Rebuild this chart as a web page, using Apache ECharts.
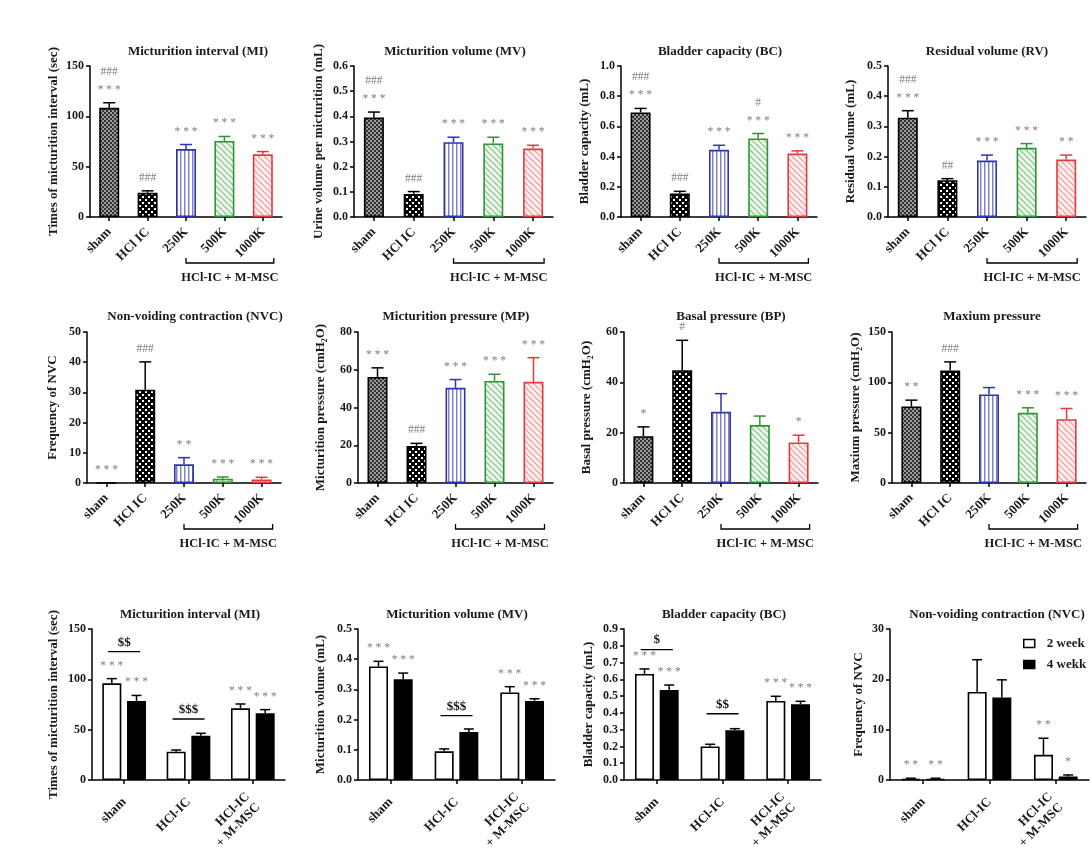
<!DOCTYPE html>
<html><head><meta charset="utf-8">
<script src="https://cdn.jsdelivr.net/npm/echarts@6/dist/echarts.min.js"></script>
<style>html,body{margin:0;padding:0;background:#fff}#c{width:1092px;height:856px}</style>
</head><body><div id="c"></div>
<script>
// ---------- categories ----------
const groups5 = ['sham', 'HCl IC', '250K', '500K', '1000K'];
const groups3 = ['sham', 'HCl-IC', 'HCl-IC\n+ M-MSC'];
const bracketLabel = 'HCl-IC + M-MSC';
const weekNames = ['2 week', '4 wekk'];

// ---------- rows 1-2 (mean, SEM, significance) ----------
const miMean = [108.5, 24, 67.5, 75.5, 62.3];
const miSem = [5, 2, 4.5, 4.5, 2.7];
const miSig = [['###', '***'], ['###'], ['***'], ['***'], ['***']];

const mvMean = [0.395, 0.091, 0.297, 0.292, 0.272];
const mvSem = [0.022, 0.01, 0.02, 0.025, 0.013];
const mvSig = [['###', '***'], ['###'], ['***'], ['***'], ['***']];

const bcMean = [0.692, 0.155, 0.445, 0.52, 0.42];
const bcSem = [0.027, 0.015, 0.03, 0.033, 0.018];
const bcSig = [['###', '***'], ['###'], ['***'], ['#', '***'], ['***']];

const rvMean = [0.329, 0.122, 0.187, 0.229, 0.19];
const rvSem = [0.023, 0.005, 0.018, 0.014, 0.015];
const rvSig = [['###', '***'], ['##'], ['***'], ['***'], ['**']];

const nvcMean = [0, 30.9, 6.2, 1.4, 1.2];
const nvcSem = [0, 9.2, 2.2, 0.6, 0.7];
const nvcSig = [['***'], ['###'], ['**'], ['***'], ['***']];

const mpMean = [56.2, 19.6, 50.4, 54.1, 53.6];
const mpSem = [4.8, 1.4, 4.4, 3.5, 12.8];
const mpSig = [['***'], ['###'], ['***'], ['***'], ['***']];

const bpMean = [18.6, 44.8, 28.3, 23, 16.1];
const bpSem = [3.7, 11.9, 7.2, 3.6, 2.9];
const bpSig = [['*'], ['#'], [], [], ['*']];

const maxMean = [76, 111.7, 87.9, 69.7, 63.4];
const maxSem = [6.3, 8.6, 6.9, 5, 10.6];
const maxSig = [['**'], ['###'], [], ['***'], ['***']];

// ---------- row 3 (2 week / 4 week) ----------
const mi2Mean = [96, 28.1, 71.2];   const mi2Sem = [4.7, 1.7, 4.3];
const mi4Mean = [78.5, 44, 66.2];   const mi4Sem = [5.5, 2.4, 3.7];
const mi2Sig = ['***', '', '***'];  const mi4Sig = ['***', '', '***'];
const miDollar = [[0, 127.5, '$$'], [1, 60.6, '$$$']];

const mv2Mean = [0.376, 0.095, 0.29];  const mv2Sem = [0.017, 0.008, 0.019];
const mv4Mean = [0.334, 0.159, 0.262]; const mv4Sem = [0.02, 0.01, 0.007];
const mv2Sig = ['***', '', '***'];     const mv4Sig = ['***', '', '***'];
const mvDollar = [[1, 0.213, '$$$']];

const bc2Mean = [0.632, 0.2, 0.471];   const bc2Sem = [0.03, 0.013, 0.028];
const bc4Mean = [0.536, 0.296, 0.451]; const bc4Sem = [0.03, 0.01, 0.018];
const bc2Sig = ['***', '', '***'];     const bc4Sig = ['***', '', '***'];
const bcDollar = [[0, 0.777, '$'], [1, 0.395, '$$']];

const nvc2Mean = [0.2, 17.5, 5.0];  const nvc2Sem = [0.15, 6.4, 3.3];
const nvc4Mean = [0.2, 16.4, 0.7];  const nvc4Sem = [0.15, 3.5, 0.3];
const nvc2Sig = ['**', '', '**'];   const nvc4Sig = ['**', '', '*'];
const nvcDollar = [];

// ---------- styling ----------
const FONT = '"Liberation Serif", "Times New Roman", serif';
const SIGCOL = '#808080';

function tile(w, h, draw) {
  const c = document.createElement('canvas'); c.width = w; c.height = h;
  const g = c.getContext('2d'); draw(g, w, h);
  return { image: c, repeat: 'repeat' };
}
function diag(bg, fg) {
  return tile(6, 6, (g) => {
    g.fillStyle = bg; g.fillRect(0, 0, 6, 6);
    g.strokeStyle = fg; g.lineWidth = 1.3;
    for (const o of [-6, 0, 6]) { g.beginPath(); g.moveTo(o, 0); g.lineTo(o + 6, 6); g.stroke(); }
  });
}
const patterns = [
  tile(4, 4, (g) => { g.fillStyle = '#9a9a9a'; g.fillRect(0, 0, 4, 4); g.fillStyle = '#333'; g.fillRect(0, 0, 2, 2); g.fillRect(2, 2, 2, 2); }),
  tile(6, 6, (g) => { g.fillStyle = '#000'; g.fillRect(0, 0, 6, 6); g.fillStyle = '#fff'; g.fillRect(1, 1, 2, 2); g.fillRect(4, 4, 2, 2); }),
  tile(4, 4, (g) => { g.fillStyle = '#fff'; g.fillRect(0, 0, 4, 4); g.fillStyle = '#7f83c6'; g.fillRect(0, 0, 1, 4); g.fillStyle = '#c2c4e8'; g.fillRect(1, 0, 1, 4); }),
  diag('#eef8ee', '#8fca8f'),
  diag('#fdf0f0', '#f2a4a4')
];
const edges = ['#000', '#000', '#2f35b0', '#2f9436', '#e23a3f'];

// layout of panels (pixel boxes)
const panels5 = [
  { title: 'Micturition interval (MI)', yName: 'Times of micturition interval (sec)', mean: miMean, sem: miSem, sig: miSig, max: 150, iv: 50, dec: 0, box: [90, 66, 192, 151], tx: 198, ty: 52, gap: 30 },
  { title: 'Micturition volume (MV)', yName: 'Urine volume per micturition (mL)', mean: mvMean, sem: mvSem, sig: mvSig, max: 0.6, iv: 0.1, dec: 1, box: [354, 66, 199, 151], tx: 455, ty: 52, gap: 29 },
  { title: 'Bladder capacity (BC)', yName: 'Bladder capacity (mL)', mean: bcMean, sem: bcSem, sig: bcSig, max: 1.0, iv: 0.2, dec: 1, box: [621, 66, 196, 151], tx: 720, ty: 52, gap: 30 },
  { title: 'Residual volume (RV)', yName: 'Residual volume (mL)', mean: rvMean, sem: rvSem, sig: rvSig, max: 0.5, iv: 0.1, dec: 1, box: [888, 66, 198, 151], tx: 987, ty: 52, gap: 31 },
  { title: 'Non-voiding contraction (NVC)', yName: 'Frequency of NVC', mean: nvcMean, sem: nvcSem, sig: nvcSig, max: 50, iv: 10, dec: 0, box: [87, 332, 194, 151], tx: 195, ty: 317, gap: 28 },
  { title: 'Micturition pressure (MP)', yName: 'Micturition pressure (cmH₂O)', mean: mpMean, sem: mpSem, sig: mpSig, max: 80, iv: 20, dec: 0, box: [358, 332, 195, 151], tx: 456, ty: 317, gap: 31 },
  { title: 'Basal pressure (BP)', yName: 'Basal pressure (cmH₂O)', mean: bpMean, sem: bpSem, sig: bpSig, max: 60, iv: 20, dec: 0, box: [624, 332, 194, 151], tx: 731, ty: 317, gap: 31 },
  { title: 'Maxium pressure', yName: 'Maxium pressure (cmH₂O)', mean: maxMean, sem: maxSem, sig: maxSig, max: 150, iv: 50, dec: 0, box: [892, 332, 194, 151], tx: 992, ty: 317, gap: 30 }
];
const panels3 = [
  { title: 'Micturition interval (MI)', yName: 'Times of micturition interval (sec)', w2: [mi2Mean, mi2Sem, mi2Sig], w4: [mi4Mean, mi4Sem, mi4Sig], dollar: miDollar, max: 150, iv: 50, dec: 0, box: [92, 629, 193, 151], tx: 190, ty: 615, gap: 32 },
  { title: 'Micturition volume (MV)', yName: 'Micturition volume (mL)', w2: [mv2Mean, mv2Sem, mv2Sig], w4: [mv4Mean, mv4Sem, mv4Sig], dollar: mvDollar, max: 0.5, iv: 0.1, dec: 1, box: [358, 629, 197, 151], tx: 457, ty: 615, gap: 31 },
  { title: 'Bladder capacity (BC)', yName: 'Bladder capacity (mL)', w2: [bc2Mean, bc2Sem, bc2Sig], w4: [bc4Mean, bc4Sem, bc4Sig], dollar: bcDollar, max: 0.9, iv: 0.1, dec: 1, box: [624, 629, 197, 151], tx: 724, ty: 615, gap: 29 },
  { title: 'Non-voiding contraction (NVC)', yName: 'Frequency of NVC', w2: [nvc2Mean, nvc2Sem, nvc2Sig], w4: [nvc4Mean, nvc4Sem, nvc4Sig], dollar: nvcDollar, max: 30, iv: 10, dec: 0, box: [890, 629, 199, 151], tx: 997, ty: 615, gap: 25 }
];

const grid = [], xAxis = [], yAxis = [], series = [], graphic = [];
const axLine = { show: true, lineStyle: { color: '#000', width: 1.5 } };
const lblStyle = { fontFamily: FONT, fontWeight: 'bold', fontSize: 12, color: '#1a1a1a' };

function spaced(t) { return t.startsWith('*') ? t.split('').join(' ') : t; }

function errRender(colorOf, offset, cap) {
  return function (params, api) {
    const i = api.value(0), m = api.value(1), s = api.value(2);
    if (!(s > 0)) return null;
    const x = api.coord([i, 0])[0] + offset;
    const y0 = api.coord([i, m])[1], y1 = api.coord([i, m + s])[1];
    const st = { stroke: colorOf(params.dataIndex), lineWidth: 1.5 };
    return { type: 'group', children: [
      { type: 'line', shape: { x1: x, y1: y0, x2: x, y2: y1 }, style: st },
      { type: 'line', shape: { x1: x - cap, y1: y1, x2: x + cap, y2: y1 }, style: st }
    ] };
  };
}
function sigRender(textOf, offset) {
  return function (params, api) {
    const t = textOf(params.dataIndex);
    if (!t) return null;
    const i = api.value(0), top = api.value(1);
    const x = api.coord([i, 0])[0] + offset;
    const y = api.coord([i, top])[1];
    return { type: 'text', x: x, y: y - 4, style: { text: t, fill: SIGCOL, font: '11.5px ' + FONT, align: 'center', verticalAlign: 'bottom', lineHeight: 18 } };
  };
}

function addAxes(p, cats, k, margin) {
  grid.push({ left: p.box[0], top: p.box[1], width: p.box[2], height: p.box[3] });
  xAxis.push({ type: 'category', gridIndex: k, data: cats, axisLine: axLine,
    axisTick: { show: true, alignWithLabel: true, length: 4, lineStyle: { color: '#000', width: 1.5 } },
    axisLabel: Object.assign({}, lblStyle, { fontSize: 13, rotate: 45, interval: 0, margin: margin, lineHeight: 15 }) });
  yAxis.push({ type: 'value', gridIndex: k, min: 0, max: p.max, interval: p.iv,
    axisLine: axLine, axisTick: { show: true, length: 4, lineStyle: { color: '#000', width: 1.5 } },
    splitLine: { show: false },
    axisLabel: Object.assign({ margin: 6, formatter: (v) => v.toFixed(p.dec) }, lblStyle),
    name: p.yName, nameLocation: 'middle', nameGap: p.gap,
    nameTextStyle: { fontFamily: FONT, fontWeight: 'bold', fontSize: 13, color: '#1a1a1a' } });
  graphic.push({ type: 'text', x: p.tx, y: p.ty, style: { text: p.title, font: 'bold 13px ' + FONT, fill: '#1a1a1a', align: 'center', verticalAlign: 'middle' } });
}

let k = 0;
panels5.forEach((p) => {
  addAxes(p, groups5, k, 13);
  series.push({ type: 'bar', xAxisIndex: k, yAxisIndex: k, barWidth: 20,
    data: p.mean.map((v, i) => ({ value: v, itemStyle: { color: patterns[i], borderColor: edges[i], borderWidth: 1.6 } })) });
  series.push({ type: 'custom', xAxisIndex: k, yAxisIndex: k, renderItem: errRender((i) => edges[i], 0, 6),
    data: p.mean.map((v, i) => [i, v, p.sem[i]]), z: 3 });
  series.push({ type: 'custom', xAxisIndex: k, yAxisIndex: k, renderItem: sigRender((i) => p.sig[i].map(spaced).join('\n'), 0),
    data: p.mean.map((v, i) => [i, v + p.sem[i]]), z: 3 });
  k++;
});

const BW = 19, OFF = (19 + 19 * 0.3) / 2;
panels3.forEach((p) => {
  addAxes(p, groups3, k, 20);
  const sets = [[p.w2, -OFF, '#fff', weekNames[0]], [p.w4, OFF, '#000', weekNames[1]]];
  sets.forEach(([d, off, fill, nm]) => {
    series.push({ type: 'bar', name: nm, xAxisIndex: k, yAxisIndex: k, barWidth: BW, barGap: '30%',
      itemStyle: { color: fill, borderColor: '#000', borderWidth: 1.6 }, data: d[0] });
  });
  sets.forEach(([d, off]) => {
    series.push({ type: 'custom', xAxisIndex: k, yAxisIndex: k, renderItem: errRender(() => '#000', off, 5),
      data: d[0].map((v, i) => [i, v, d[1][i]]), z: 3 });
    series.push({ type: 'custom', xAxisIndex: k, yAxisIndex: k, renderItem: sigRender((i) => spaced(d[2][i]), off),
      data: d[0].map((v, i) => [i, v + d[1][i]]), z: 3 });
  });
  series.push({ type: 'custom', xAxisIndex: k, yAxisIndex: k, z: 3,
    renderItem: function (params, api) {
      const i = api.value(0), lv = api.value(1);
      const x = api.coord([i, 0])[0], y = api.coord([i, lv])[1];
      return { type: 'group', children: [
        { type: 'line', shape: { x1: x - 16, y1: y, x2: x + 16, y2: y }, style: { stroke: '#000', lineWidth: 1.3 } },
        { type: 'text', x: x, y: y - 3, style: { text: p.dollar[params.dataIndex][2], font: 'bold 13px ' + FONT, fill: '#111', align: 'center', verticalAlign: 'bottom' } }
      ] };
    },
    data: p.dollar.map((d) => [d[0], d[1]]) });
  k++;
});

const chart = echarts.init(document.getElementById('c'));
chart.setOption({
  animation: false,
  backgroundColor: '#fff',
  grid, xAxis, yAxis, series,
  legend: { data: [
      { name: weekNames[0], itemStyle: { color: '#fff', borderColor: '#000', borderWidth: 1.5 } },
      { name: weekNames[1], itemStyle: { color: '#000', borderColor: '#000', borderWidth: 1.5 } }],
    orient: 'vertical', left: 1018, top: 632, itemWidth: 11, itemHeight: 8, itemGap: 8, icon: 'rect',
    selectedMode: false,
    textStyle: { fontFamily: FONT, fontWeight: 'bold', fontSize: 13, color: '#1a1a1a', padding: [0, 0, 0, 7] } },
  graphic
});

// brackets under 250K..1000K for the first two rows
panels5.forEach((p, idx) => {
  const x1 = chart.convertToPixel({ xAxisIndex: idx }, 2);
  const x2 = chart.convertToPixel({ xAxisIndex: idx }, 4) + 11;
  const yb = chart.convertToPixel({ yAxisIndex: idx }, 0);
  const y = yb + 46;
  graphic.push({ type: 'polyline', shape: { points: [[x1, y - 5], [x1, y], [x2, y], [x2, y - 5]] }, style: { stroke: '#000', lineWidth: 1.3, fill: null } });
  graphic.push({ type: 'text', x: (x1 + x2) / 2, y: y + 15, style: { text: bracketLabel, font: 'bold 12.5px ' + FONT, fill: '#1a1a1a', align: 'center', verticalAlign: 'middle' } });
});
chart.setOption({ graphic });
</script>
</body></html>
